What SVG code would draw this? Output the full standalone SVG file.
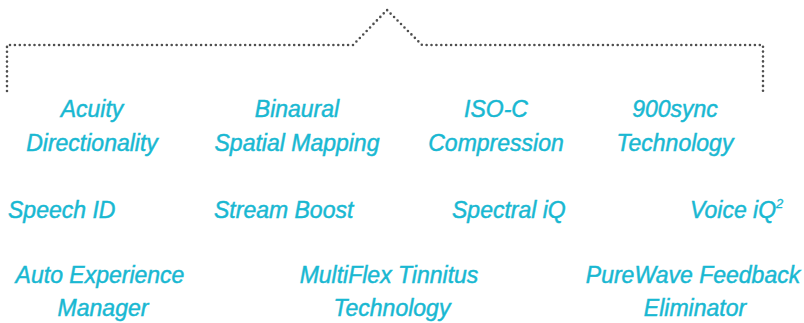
<svg xmlns="http://www.w3.org/2000/svg" width="804" height="323" viewBox="0 0 804 323">
<style>
.t{font-family:"Liberation Sans",Arial,sans-serif;font-style:italic;font-size:23px;fill:#19b8d2;stroke:#19b8d2;stroke-width:0.45}
.c{text-anchor:middle}
.br{fill:none;stroke:#4f4f4f;stroke-width:2.6;stroke-linecap:round;stroke-dasharray:0 4.9}
</style>
<rect width="804" height="323" fill="#fff"/>
<g id="connectors">
<path class="br" d="M7,91 L7,45 L353,45 L387,10 L422,45 L763,45 L763,91"/>
</g>
<g id="acuity"><text class="t c" x="92" y="117">Acuity</text><text class="t c" x="92" y="151">Directionality</text></g>
<g id="binaural"><text class="t c" x="297" y="117">Binaural</text><text class="t c" x="297" y="151">Spatial Mapping</text></g>
<g id="isoc"><text class="t c" x="496" y="117">ISO-C</text><text class="t c" x="496" y="151">Compression</text></g>
<g id="sync"><text class="t c" x="675" y="117">900sync</text><text class="t c" x="675" y="151">Technology</text></g>
<g id="speechid"><text class="t" x="8" y="218">Speech ID</text></g>
<g id="streamboost"><text class="t" x="214" y="218">Stream Boost</text></g>
<g id="spectral"><text class="t" x="452" y="218">Spectral iQ</text></g>
<g id="voice"><text class="t" x="690" y="218">Voice iQ<tspan font-size="13" dy="-10" stroke-width="0.3">2</tspan></text></g>
<g id="aem"><text class="t c" x="100" y="283">Auto Experience</text><text class="t c" x="103" y="316">Manager</text></g>
<g id="multiflex"><text class="t c" x="389" y="283">MultiFlex Tinnitus</text><text class="t c" x="392" y="316">Technology</text></g>
<g id="purewave"><text class="t c" x="693" y="283">PureWave Feedback</text><text class="t c" x="695" y="316">Eliminator</text></g>
</svg>
